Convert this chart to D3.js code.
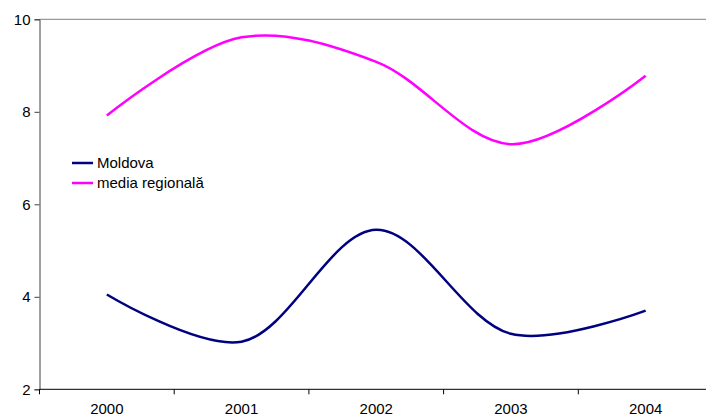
<!DOCTYPE html>
<html>
<head>
<meta charset="utf-8">
<script src="https://cdn.jsdelivr.net/npm/d3@7"></script>
<style>
body { margin: 0; background: #fff; }
text { font-family: "Liberation Sans", Arial, sans-serif; font-size: 15px; fill: #000; }
</style>
</head>
<body>
<script>
var years = ["2000", "2001", "2002", "2003", "2004"];
var moldova = [4.05, 3.03, 5.45, 3.2, 3.7];
var media = [7.92, 9.61, 9.08, 7.3, 8.78];
var yTicks = [2, 4, 6, 8, 10];
var seriesNames = ["Moldova", "media regională"];
var seriesColors = ["#000080", "#ff00ff"];

var W = 706, H = 417;
var plotLeft = 39.5, plotTop = 19.3, plotBottom = 389.3;
var step = 134.7;

var svg = d3.select("body").append("svg")
    .attr("width", W).attr("height", H);

var x = d3.scaleBand().domain(years)
    .range([plotLeft, plotLeft + step * years.length]);
var y = d3.scaleLinear().domain([2, 10]).range([plotBottom, plotTop]);

// top line of plot area
svg.append("line")
    .attr("x1", plotLeft).attr("x2", W)
    .attr("y1", y(10)).attr("y2", y(10))
    .attr("stroke", "#808080").attr("stroke-width", 1);

// y axis
var yAxis = svg.append("g")
    .attr("transform", "translate(" + plotLeft + ",0)")
    .call(d3.axisLeft(y).tickValues(yTicks).tickSize(5).tickPadding(4).tickFormat(d3.format("d")));
yAxis.select(".domain").attr("stroke", "#404040");
yAxis.selectAll(".tick line").attr("stroke", "#404040");
yAxis.selectAll("text").style("font-size", "15px").attr("fill", "#000");

// x axis - ticks between categories
var xg = svg.append("g").attr("transform", "translate(0," + plotBottom + ")");
xg.append("line")
    .attr("x1", plotLeft).attr("x2", W)
    .attr("stroke", "#000");
xg.selectAll("line.t").data(years.concat(["end"])).enter().append("line")
    .attr("class", "t")
    .attr("x1", function(d, i) { return plotLeft + i * x.step(); })
    .attr("x2", function(d, i) { return plotLeft + i * x.step(); })
    .attr("y1", 0).attr("y2", 5)
    .attr("stroke", "#000");
xg.selectAll("text").data(years).enter().append("text")
    .attr("x", function(d) { return x(d) + x.bandwidth() / 2; })
    .attr("y", 25)
    .attr("text-anchor", "middle")
    .text(function(d) { return d; });

var line = d3.line()
    .x(function(d, i) { return x(years[i]) + x.bandwidth() / 2; })
    .y(function(d) { return y(d); })
    .curve(d3.curveCatmullRom.alpha(0.5));

[moldova, media].forEach(function(s, i) {
    svg.append("path")
        .attr("d", line(s))
        .attr("fill", "none")
        .attr("stroke", seriesColors[i])
        .attr("stroke-width", 2.5);
});

// legend
var lg = svg.append("g");
seriesNames.forEach(function(n, i) {
    var ly = 163 + i * 20;
    lg.append("line")
        .attr("x1", 72).attr("x2", 93)
        .attr("y1", ly).attr("y2", ly)
        .attr("stroke", seriesColors[i]).attr("stroke-width", 2.5);
    lg.append("text")
        .attr("x", 97).attr("y", ly + 5)
        .text(n);
});
</script>
</body>
</html>
